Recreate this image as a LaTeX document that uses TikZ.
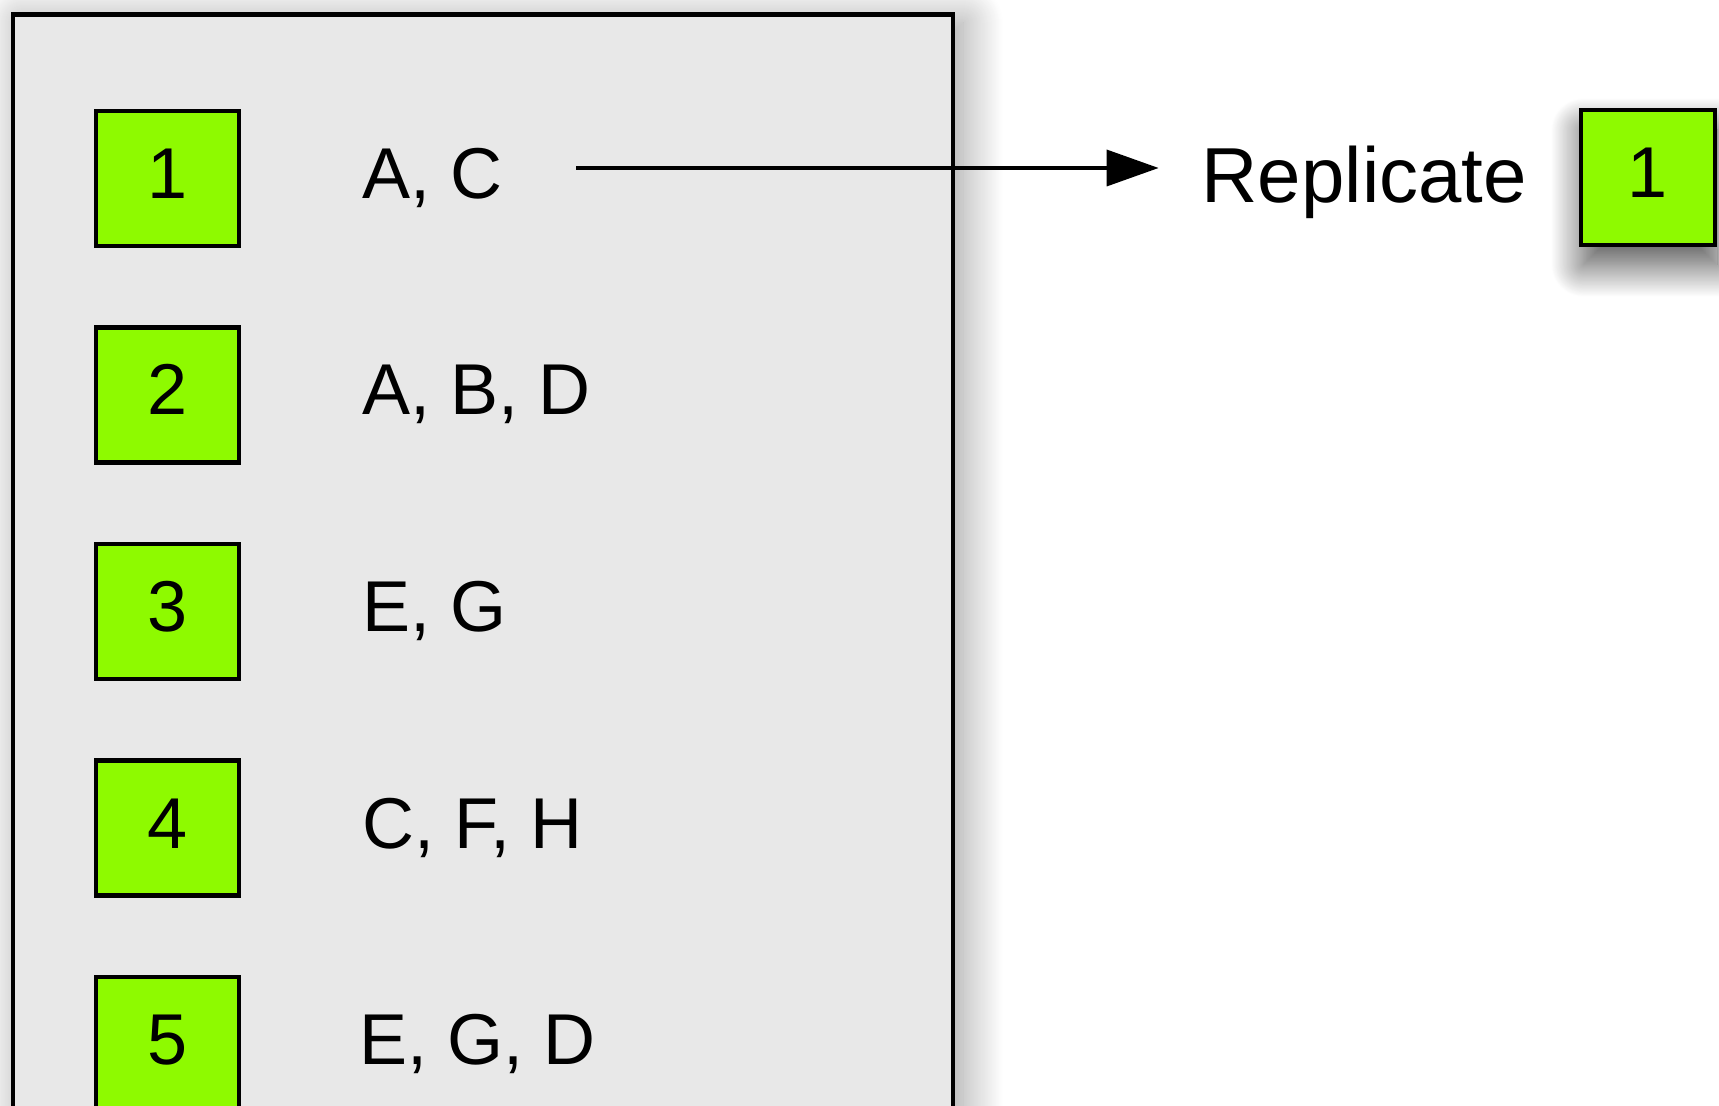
\documentclass[tikz,border=0pt]{standalone}
\usepackage{fontspec}
\setmainfont{Liberation Sans}
\usetikzlibrary{arrows.meta,positioning,shadows.blur}
\definecolor{tilegreen}{RGB}{142,250,0}
\definecolor{panelgray}{RGB}{232,232,232}

\begin{document}
\begin{tikzpicture}[node distance=108.25pt,
                    tile/.style={draw,line width=2.2pt,fill=tilegreen,minimum width=71.5pt,
                                 minimum height=67.5pt,inner sep=0pt,text height=26pt,text depth=6pt,
                                 font=\fontsize{36pt}{40pt}\selectfont},
                    keys/.style={inner sep=0pt,outer sep=0pt,text height=26pt,text depth=6pt,
                                 font=\fontsize{36pt}{40pt}\selectfont},
                    flow/.style={-{Triangle[length=26pt,width=18pt,fill=black]},line width=1.8pt,
                                 shorten >=21.5pt}]

  \useasboundingbox (0,0) rectangle (859.5pt,-553pt);
  \draw[line width=2.2pt,fill=panelgray,
        blur shadow={shadow xshift=5pt,shadow yshift=-4pt,shadow blur radius=20pt,
                     shadow blur steps=40,shadow opacity=40}]
        (6.35pt,-7.35pt) rectangle (476.5pt,-640pt);

  \node[tile]         (one)  at (83.75pt,-89.25pt) {1};
  \node[tile]         (two)  [below of=one]     {2};
  \node[tile]         (thr)  [below of=two]     {3};
  \node[tile]         (four) [below of=thr]     {4};
  \node[tile]         (five) [below of=four]    {5};
  \node[keys]         (ac)   [right=60.5pt of one]  {A, C};
  \node[keys]         (abd)  [right=60.5pt of two]  {A, B, D};
  \node[keys]         (eg)   [right=60.5pt of thr]  {E, G};
  \node[keys]         (cfh)  [right=60.5pt of four] {C, F, H};
  \node[keys]         (egd)  [right=59pt of five]   {E, G, D};

  \node[tile,minimum width=67pt,
        blur shadow={shadow xshift=1pt,shadow yshift=-10pt,shadow blur radius=16pt,
                     shadow blur steps=40,shadow opacity=70}]
                      (copy) at (824pt,-88.75pt) {1};
  \node[keys,text height=31.5pt,font=\fontsize{39pt}{43pt}\selectfont]
                      (rep)  [left=26pt of copy] {Replicate};

  \coordinate (tail) at ([xshift=37pt,yshift=5.25pt]ac.east);
  \draw[flow] (tail) -- (tail -| rep.west);
\end{tikzpicture}
\end{document}
